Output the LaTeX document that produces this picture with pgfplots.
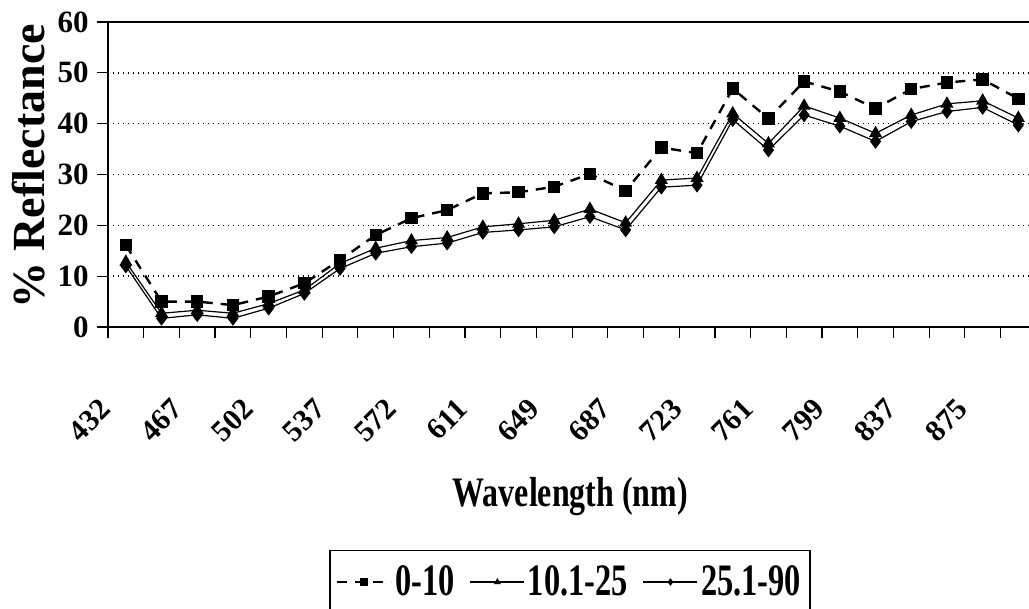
\documentclass[border=0pt]{standalone}
\usepackage{pgfplots}
\pgfplotsset{compat=1.18}
\usepackage{pgfplotstable}
\usepackage{fontspec}
\setmainfont{Liberation Serif}
\usepackage{graphicx}

\pgfplotstableread{
k  s1    s2    s3
0  16.1  12.8  12.0
1  5.0   2.7   1.7
2  5.0   3.3   2.4
3  4.3   2.7   1.7
4  6.0   4.6   3.7
5  8.6   7.3   6.6
6  13.2  12.5  11.5
7  18.1  15.5  14.5
8  21.4  17.0  15.8
9  23.0  17.6  16.5
10 26.3  19.7  18.6
11 26.5  20.3  19.1
12 27.6  21.0  19.7
13 30.1  23.2  21.7
14 26.8  20.5  19.1
15 35.3  28.9  27.5
16 34.2  29.3  27.9
17 46.9  42.0  40.8
18 41.0  36.1  34.8
19 48.3  43.5  41.7
20 46.3  41.1  39.5
21 43.0  38.1  36.5
22 46.8  41.7  40.4
23 48.1  43.9  42.4
24 48.7  44.5  43.2
25 44.9  41.1  39.7
}\datatable

\begin{document}
\begin{tikzpicture}
\useasboundingbox (0pt,0pt) rectangle (514.5pt,-304.5pt);
\begin{axis}[
  at={(54pt,-163.5pt)}, anchor=south west,
  scale only axis, width=464.1pt, height=152.5pt,
  xmin=-0.5, xmax=25.5, ymin=0, ymax=60,
  axis line style={line width=0.8pt},
  tick align=outside,
  tick pos=left,
  major tick length=5.5pt,
  tick style={black, line width=0.6pt},
  xtick={-0.5,0.5,...,25.5},
  xticklabels={},
  extra x ticks={0,2,...,24},
  extra x tick labels={432,467,502,537,572,611,649,687,723,761,799,837,875},
  extra x tick style={tick style={draw=none},
    xticklabel style={font=\fontsize{15}{16}\selectfont\bfseries, inner sep=0pt, xshift=-10pt, yshift=-33pt, anchor=east, rotate=45}},
  ytick={0,10,...,60},
  yticklabel style={font=\fontsize{15.5}{16}\selectfont\bfseries, inner sep=0pt, xshift=-4pt},
  /pgf/number format/assume math mode=true,
  ymajorgrids,
  grid style={black, line width=0.7pt, dash pattern=on 0.7pt off 1.8pt},
  ylabel={\fontsize{23}{24}\selectfont\bfseries \% Reflectance},
  ylabel style={at={(axis description cs:-0.085,0.526)}, anchor=center, rotate=0},
  xlabel={\fontsize{21}{23}\selectfont\bfseries\scalebox{0.76}[1]{Wavelength (nm)}},
  xlabel style={at={(axis description cs:0.498,-0.557)}, anchor=center},
  legend columns=3,
  legend style={at={(axis description cs:0.4977,-0.731)}, anchor=north,
    draw=black, line width=0.6pt, font=\fontsize{22.5}{24}\selectfont\bfseries,
    nodes={inner sep=1.5pt}, inner xsep=3pt, inner ysep=6pt,
    /tikz/every even column/.append style={column sep=6pt}},
  legend image code/.code={\draw[mark repeat=2,mark phase=2,#1] plot coordinates {(0pt,0pt) (13.5pt,0pt) (27pt,0pt)};},
  legend image post style={mark size=1.4pt},
]
\addplot[black, line width=1.2pt, dash pattern=on 5pt off 4pt, mark=square*, mark size=2.5pt, mark options={solid}] table[x=k,y=s1]{\datatable};
\addlegendentry{\scalebox{0.72}[1]{0-10}}
\addplot[black, line width=0.6pt, mark=triangle*, mark size=3.2pt] table[x=k,y=s2]{\datatable};
\addlegendentry{\scalebox{0.72}[1]{10.1-25}}
\addplot[black, line width=0.6pt, mark=diamond*, mark size=3.2pt] table[x=k,y=s3]{\datatable};
\addlegendentry{\scalebox{0.72}[1]{25.1-90}}
\end{axis}
\end{tikzpicture}
\end{document}
